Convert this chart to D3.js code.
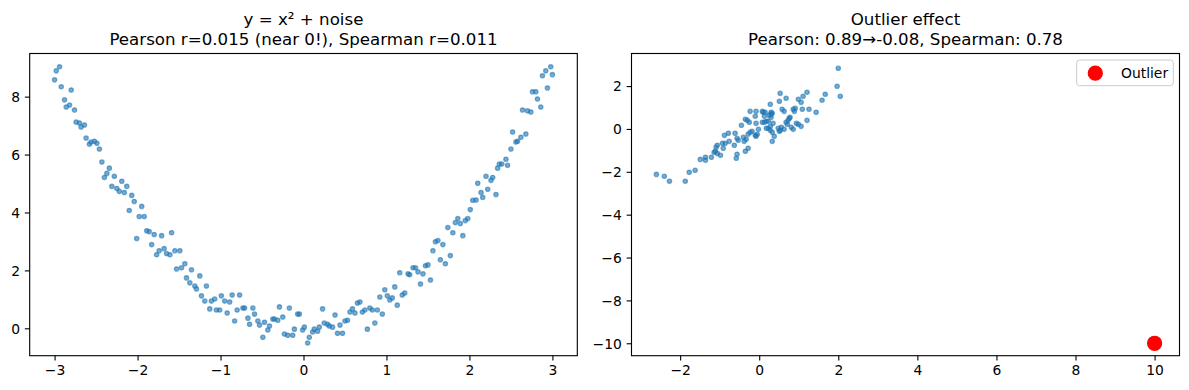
<!DOCTYPE html>
<html><head><meta charset="utf-8">
<script src="https://cdn.jsdelivr.net/npm/d3@7"></script>
<style>body{margin:0;background:#fff}svg{display:block;font-family:"DejaVu Sans",sans-serif}</style>
</head><body><svg id="c" width="1189" height="390"></svg>
<script>
// ---- data ----
const leftTitle = ["y = x\u00B2 + noise", "Pearson r=0.015 (near 0!), Spearman r=0.011"];
const rightTitle = ["Outlier effect", "Pearson: 0.89\u2192-0.08, Spearman: 0.78"];
const leftX = [-2.94,-2.98,-3.00,-2.92,-2.80,-2.88,-2.82,-2.86,-2.76,-2.74,-2.70,-2.64,-2.68,-2.62,-2.58,-2.56,-2.52,-2.49,-2.46,-2.43,-2.34,-2.37,-2.40,-2.28,-2.19,-2.31,-2.25,-2.13,-2.22,-2.16,-2.07,-2.04,-1.95,-2.10,-1.98,-1.92,
 -2.01,-1.89,-1.86,-1.80,-1.71,-1.59,-1.83,-1.77,-1.74,-1.68,-1.65,-1.61,-1.55,-1.49,-1.53,-1.47,-1.43,-1.41,-1.35,-1.37,-1.31,-1.29,-1.25,-1.23,-1.17,-1.19,-1.13,-1.11,-1.07,-1.05,-1.01,-0.99,-0.95,-0.92,-0.89,-0.86,-0.83,-0.80,-0.77,-0.73,-0.71,-0.67,-0.65,-0.61,-0.59,-0.55,-0.53,-0.49,-0.47,-0.43,-0.41,-0.37,-0.35,-0.31,-0.29,-0.25,-0.23,-0.19,-0.17,-0.13,-0.11,-0.07,-0.05,-0.01,0.01,0.05,0.07,
 0.11,0.13,0.17,0.19,0.23,0.25,0.29,0.31,0.35,0.38,0.41,0.44,0.47,0.50,0.53,0.56,0.59,0.62,0.65,0.68,0.71,0.74,0.77,0.80,0.83,0.86,0.89,0.92,0.95,0.98,1.01,1.04,1.07,1.10,1.13,1.16,1.19,1.22,1.26,1.28,1.32,1.35,1.38,1.41,1.44,1.47,1.50,1.53,1.56,1.59,1.62,1.65,1.68,1.71,1.74,1.77,1.80,1.83,1.86,1.89,1.92,1.95,1.98,2.01,2.04,2.08,
 2.14,2.16,2.10,2.22,2.20,2.26,2.28,2.32,2.34,2.36,2.39,2.46,2.44,2.50,2.56,2.58,2.62,2.68,2.52,2.64,2.70,2.74,2.86,2.82,2.76,2.80,2.94,2.88,2.92,3.00,2.98];
const leftY = [9.03,8.89,8.58,8.34,8.23,7.89,7.71,7.64,7.54,7.12,7.09,7.02,6.95,6.57,6.36,6.43,6.46,6.39,6.19,5.74,5.53,5.35,5.21,5.25,5.08,4.90,4.83,4.90,4.73,4.69,4.59,4.38,4.21,4.07,3.86,3.86,
 3.10,3.37,3.34,3.24,3.20,3.30,2.89,2.54,2.68,2.75,2.58,2.54,2.68,2.68,2.05,2.09,2.23,1.74,2.02,1.57,1.46,1.36,1.81,1.12,1.46,0.94,0.67,0.94,1.01,0.63,0.63,1.12,0.94,0.53,0.91,1.15,0.25,0.63,1.15,0.70,0.70,0.35,0.14,0.70,0.49,0.25,0.11,-0.31,0.21,-0.06,0.08,0.32,0.32,0.28,0.74,0.39,-0.20,-0.24,0.70,-0.24,-0.03,0.49,0.49,-0.06,0.04,-0.51,-0.31,
 -0.13,-0.03,-0.10,0.04,0.67,0.18,0.14,0.08,0.04,0.46,-0.17,0.11,-0.17,0.25,0.28,0.56,0.67,0.53,0.87,0.91,0.56,0.63,-0.03,0.70,0.63,0.18,0.63,1.08,0.49,1.33,1.12,0.98,1.05,1.43,0.80,1.92,1.15,1.22,1.88,1.85,2.09,2.09,1.95,1.53,1.88,2.16,2.19,1.67,2.68,2.99,3.03,2.37,2.89,2.23,3.48,2.51,3.30,3.65,3.79,3.62,3.20,3.72,3.79,4.10,4.42,4.43,
 4.69,4.52,5.01,4.80,5.25,5.11,5.21,4.62,5.53,5.67,5.67,5.63,5.84,6.19,6.43,6.46,6.60,6.71,6.78,7.54,7.51,7.47,7.64,7.92,8.17,8.17,8.30,8.72,8.89,8.76,9.03];
const rightX = [2.00,1.97,2.05,1.67,1.59,1.44,1.21,1.11,1.06,0.99,1.21,1.26,1.09,0.91,0.89,0.86,0.94,0.99,1.06,0.76,
 0.78,0.73,0.68,0.71,0.63,0.81,0.86,0.58,0.63,0.51,0.53,0.68,0.28,0.30,0.30,0.33,0.30,0.25,0.15,0.10,
 0.08,0.13,0.18,0.13,0.08,0.23,0.35,0.28,0.23,0.18,0.28,0.33,0.38,0.33,0.48,0.51,0.56,0.53,-0.08,-0.10,
 -0.08,-0.02,-0.05,-0.08,-0.10,-0.18,-0.23,-0.25,-0.30,-0.35,-0.45,-0.23,-0.28,-0.33,-0.38,-0.40,-0.28,-0.35,-0.56,-0.53,
 -0.61,-0.63,-0.56,-0.58,-0.76,-0.78,-0.88,-0.86,-0.93,-0.91,-1.06,-1.09,-1.11,-1.14,-0.98,-1.06,-1.21,-1.36,-1.36,-1.49,
 -1.62,-1.77,-1.87,-2.27,-2.40,-2.60];
const rightY = [2.83,1.99,1.52,1.62,1.34,0.78,1.71,1.52,1.24,1.38,0.40,0.92,0.92,0.96,0.82,0.92,0.26,0.22,0.12,0.50,
 0.54,0.40,0.31,0.22,-0.02,0.08,-0.02,0.92,0.82,1.29,1.66,1.43,1.15,0.78,0.68,0.73,0.54,0.64,0.78,0.78,
 0.82,0.59,0.36,0.31,0.31,0.36,0.26,0.12,0.03,0.03,-0.06,-0.16,-0.34,-0.58,0.03,-0.11,0.08,-0.06,0.82,0.59,
 0.26,-0.02,-0.25,-0.34,-0.30,-0.11,0.82,0.31,0.40,0.45,0.17,-0.16,-0.25,-0.48,-0.58,-0.39,-0.90,-1.04,-0.44,-0.53,
 -0.20,-0.76,-1.18,-1.37,-0.58,-0.20,-0.30,-0.67,-0.67,-0.90,-0.76,-0.86,-1.04,-1.09,-1.23,-1.14,-1.32,-1.32,-1.46,-1.42,
 -1.93,-2.02,-2.44,-2.44,-2.21,-2.12];
const outlierX = [10];
const outlierY = [-10];
const outlierLabel = "Outlier";
const leftXTicks = [-3,-2,-1,0,1,2,3];
const leftYTicks = [0,2,4,6,8];
const rightXTicks = [-2,0,2,4,6,8,10];
const rightYTicks = [-10,-8,-6,-4,-2,0,2];

// ---- drawing ----
const TOP = 53.5, BOTTOM = 355.7;
const BLUE = "#1f77b4";
const svg = d3.select("#c");
svg.append("rect").attr("width",1189).attr("height",390).attr("fill","#fff");
const fmt = d3.format("d");

function panel(o){
  const x = d3.scaleLinear().domain(o.xDomain).range([o.left, o.right]);
  const y = d3.scaleLinear().domain(o.yDomain).range([BOTTOM, TOP]);
  const g = svg.append("g");
  const pts = o.xs.map((v,i)=>({x:v, y:o.ys[i]}));
  g.append("g").selectAll("circle").data(pts).join("circle")
    .attr("cx", d=>x(d.x)).attr("cy", d=>y(d.y)).attr("r", 2.15)
    .attr("fill", BLUE).attr("fill-opacity", 0.6)
    .attr("stroke", BLUE).attr("stroke-opacity", 0.6).attr("stroke-width", 1.3);
  if (o.extra) o.extra(g, x, y);
  const xa = g.append("g").attr("transform", `translate(0,${BOTTOM})`)
    .call(d3.axisBottom(x).tickValues(o.xTicks).tickSize(4.86).tickPadding(4.86).tickFormat(fmt));
  const ya = g.append("g").attr("transform", `translate(${o.left},0)`)
    .call(d3.axisLeft(y).tickValues(o.yTicks).tickSize(4.86).tickPadding(4.86).tickFormat(fmt));
  [xa, ya].forEach(a=>{
    a.select(".domain").remove();
    a.attr("font-family", null).attr("font-size", null);
    a.selectAll("line").attr("stroke", "#000").attr("stroke-width", 1.11);
    a.selectAll("text").attr("fill", "#000").style("font-size", "13.89px");
  });
  ya.selectAll("text").attr("dy", "0.34em");
  g.append("rect").attr("x", o.left).attr("y", TOP).attr("width", o.right - o.left).attr("height", BOTTOM - TOP)
    .attr("fill", "none").attr("stroke", "#000").attr("stroke-width", 1.11);
  const cx = (o.left + o.right) / 2;
  g.append("text").attr("x", cx).attr("y", 25.2).attr("text-anchor", "middle").style("font-size", "16.67px").text(o.title[0]);
  g.append("text").attr("x", cx).attr("y", 45.2).attr("text-anchor", "middle").style("font-size", "16.67px").text(o.title[1]);
}

panel({left:29.7, right:577.3, xDomain:[-3.3,3.3], yDomain:[-0.946,9.49],
  xs:leftX, ys:leftY, xTicks:leftXTicks, yTicks:leftYTicks, title:leftTitle});

panel({left:631.5, right:1179.5, xDomain:[-3.23,10.63], yDomain:[-10.58,3.52],
  xs:rightX, ys:rightY, xTicks:rightXTicks, yTicks:rightYTicks, title:rightTitle,
  extra:(g,x,y)=>{
    g.append("g").selectAll("circle").data(outlierX.map((v,i)=>({x:v,y:outlierY[i]}))).join("circle")
      .attr("cx", d=>x(d.x)).attr("cy", d=>y(d.y)).attr("r", 6.94)
      .attr("fill", "red").attr("stroke", "red").attr("stroke-width", 1.39);
  }});

// legend
const lg = svg.append("g");
lg.append("rect").attr("x", 1076.7).attr("y", 60).attr("width", 96.6).attr("height", 25.7).attr("rx", 2.8)
  .attr("fill", "#fff").attr("fill-opacity", 0.8).attr("stroke", "#cccccc").attr("stroke-width", 1);
lg.append("circle").attr("cx", 1095.3).attr("cy", 73.2).attr("r", 6.94)
  .attr("fill", "red").attr("stroke", "red").attr("stroke-width", 1.39);
lg.append("text").attr("x", 1121).attr("y", 78).style("font-size", "13.89px").attr("fill", "#000").text(outlierLabel);
</script></body></html>
